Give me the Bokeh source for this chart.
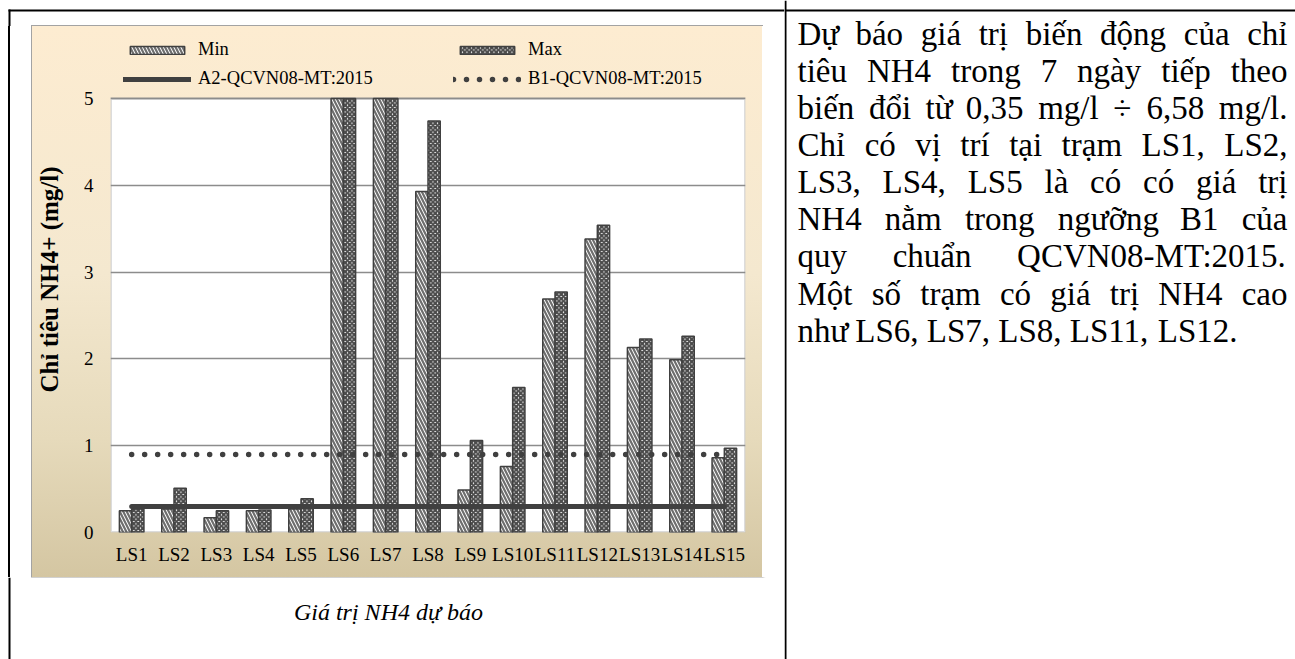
import unicodedata
import numpy as np
from bokeh.plotting import figure
from bokeh.models import (FactorRange, Range1d, ColumnDataSource, Legend, LegendItem,
                          BoxAnnotation, SingleIntervalTicker, Spacer)
from bokeh.layouts import row, column
from bokeh.transform import dodge
from bokeh.core.properties import value
from bokeh.embed import file_html
from bokeh.resources import INLINE

# ---------------- data ----------------
stations = ["LS1", "LS2", "LS3", "LS4", "LS5", "LS6", "LS7", "LS8", "LS9", "LS10",
            "LS11", "LS12", "LS13", "LS14", "LS15"]
nh4_min = [0.25, 0.27, 0.17, 0.25, 0.27, 6.10, 5.80, 3.93, 0.49, 0.76, 2.69, 3.38, 2.13, 1.99, 0.86]
nh4_max = [0.27, 0.51, 0.25, 0.26, 0.39, 6.58, 6.20, 4.74, 1.06, 1.67, 2.77, 3.54, 2.23, 2.26, 0.97]
a2_limit = [0.3, 0.3, 0.3, 0.3, 0.3, 0.3, 0.3, 0.3, 0.3, 0.3, 0.3, 0.3, 0.3, 0.3, 0.3]
b1_limit = [0.9, 0.9, 0.9, 0.9, 0.9, 0.9, 0.9, 0.9, 0.9, 0.9, 0.9, 0.9, 0.9, 0.9, 0.9]
y_axis_max = 5
y_ticks_interval = 1
series_names = ["Min", "Max", "A2-QCVN08-MT:2015", "B1-QCVN08-MT:2015"]
y_title = "Chỉ tiêu NH4+ (mg/l)"
caption = "Giá trị NH4 dự báo"
paragraph_lines = [
    "Dự báo giá trị biến động của chỉ",
    "tiêu NH4 trong 7 ngày tiếp theo",
    "biến đổi từ 0,35 mg/l ÷ 6,58 mg/l.",
    "Chỉ có vị trí tại trạm LS1, LS2,",
    "LS3, LS4, LS5 là có có giá trị",
    "NH4 nằm trong ngưỡng B1 của",
    "quy chuẩn QCVN08-MT:2015.",
    "Một số trạm có giá trị NH4 cao",
    "như LS6, LS7, LS8, LS11, LS12.",
]

SERIF = "Liberation Serif"
DARK = "#404040"
GRID = "#8c8c8c"

# ---------------- chart ----------------
PANEL_W, PANEL_H = 730, 551
MB_LEFT, MB_RIGHT, MB_BOTTOM = 72, 17, 45
PLOT_H = 434                       # pixel height of the 0..5 plot area
FRAME_H = PANEL_H - MB_BOTTOM      # frame reaches the panel top (legend lives inside)

# bars are cut at the axis maximum, as in the original chart
src = ColumnDataSource(dict(cat=stations,
                            mn=np.minimum(nh4_min, y_axis_max),
                            mx=np.minimum(nh4_max, y_axis_max),
                            a2=a2_limit, b1=b1_limit))

p = figure(x_range=FactorRange(*stations, range_padding=0),
           y_range=Range1d(0, y_axis_max * FRAME_H / PLOT_H),
           width=PANEL_W, height=PANEL_H, output_backend="svg", toolbar_location=None,
           min_border_left=MB_LEFT, min_border_right=MB_RIGHT, min_border_top=0,
           min_border_bottom=MB_BOTTOM,
           border_fill_color=None, background_fill_color=None, outline_line_color=None)
p.styles = {
    "background": "linear-gradient(to bottom, #fdecd1 0%, #f4e8cf 45%, #e6dabb 75%, #d4c6a2 100%)",
    "box-shadow": "0 0 0 1px #a3a3a3, 2px 2px 2px #9a9a9a",
}

# white plotting area with its grey border
p.add_layout(BoxAnnotation(bottom=0, top=y_axis_max, fill_color="white", fill_alpha=1,
                           line_color=GRID, line_width=3, level="image"))

r_min = p.vbar(x=dodge("cat", -0.145, range=p.x_range), top="mn", width=0.29, source=src,
               fill_color="white", line_color=DARK, line_width=1.5,
               hatch_pattern="left_diagonal_line", hatch_color="#6e6e6e",
               hatch_weight=2.2, hatch_scale=7)
r_max = p.vbar(x=dodge("cat", 0.145, range=p.x_range), top="mx", width=0.29, source=src,
               fill_color="white", line_color=DARK, line_width=1.5,
               hatch_pattern="diagonal_cross", hatch_color="#4a4a4a",
               hatch_weight=2.1, hatch_scale=4.5)
r_a2 = p.line(x="cat", y="a2", source=src, line_color=DARK, line_width=5, line_cap="round")
r_b1 = p.line(x="cat", y="b1", source=src, line_color=DARK, line_width=5.5, line_cap="round",
              line_dash="0 13")

p.xgrid.visible = False
p.ygrid.grid_line_color = GRID
p.ygrid.grid_line_width = 1.5
p.ygrid.bounds = (0, y_axis_max)

p.yaxis.ticker = SingleIntervalTicker(interval=y_ticks_interval)
p.yaxis.bounds = (0, y_axis_max)
for ax in (p.xaxis, p.yaxis):
    ax.axis_line_color = None
    ax.major_tick_line_color = None
    ax.minor_tick_line_color = None
    ax.major_label_text_font = SERIF
    ax.major_label_text_font_size = "19px"
    ax.major_label_text_color = "black"
p.xaxis.major_label_standoff = 5
p.yaxis.major_label_standoff = 11
p.yaxis.axis_label = y_title
p.yaxis.axis_label_text_font = SERIF
p.yaxis.axis_label_text_font_size = "25px"
p.yaxis.axis_label_text_font_style = "bold"
p.yaxis.axis_label_text_color = "black"
p.yaxis.axis_label_standoff = 18

legend = Legend(items=[LegendItem(label=series_names[0], renderers=[r_min]),
                       LegendItem(label=series_names[2], renderers=[r_a2]),
                       LegendItem(label=series_names[1], renderers=[r_max]),
                       LegendItem(label=series_names[3], renderers=[r_b1])],
                location=(13, 443), ncols=2, orientation="vertical",
                glyph_width=68, glyph_height=10, label_width=247, label_height=20,
                label_standoff=7, spacing=8, padding=0, margin=0,
                label_text_font=SERIF, label_text_font_size="18.5px",
                label_text_color="black",
                background_fill_alpha=0, border_line_alpha=0)
p.add_layout(legend)


# ---------------- helpers for the surrounding page ----------------
def blank(w, h):
    f = figure(width=w, height=h, x_range=Range1d(0, w), y_range=Range1d(h, 0),
               x_axis_type=None, y_axis_type=None,
               output_backend="svg", toolbar_location=None, min_border=0,
               border_fill_color="white", background_fill_color="white",
               outline_line_color=None)
    f.grid.visible = False
    return f


def rule(f, **kw):
    f.add_layout(BoxAnnotation(fill_color="black", fill_alpha=1, line_color=None, **kw))


TIMES = {" ": 250, "(": 333, ")": 333, "+": 564, ",": 250, "-": 333, ".": 250, "/": 278,
         ":": 278, "÷": 564,
         "A": 722, "B": 667, "C": 667, "D": 722, "E": 611, "F": 556, "G": 722, "H": 722,
         "I": 333, "J": 389, "K": 722, "L": 611, "M": 889, "N": 722, "O": 722, "P": 556,
         "Q": 722, "R": 667, "S": 556, "T": 611, "U": 722, "V": 722, "W": 944, "X": 722,
         "Y": 722, "Z": 611,
         "a": 444, "b": 500, "c": 444, "d": 500, "e": 444, "f": 333, "g": 500, "h": 500,
         "i": 278, "j": 278, "k": 500, "l": 278, "m": 778, "n": 500, "o": 500, "p": 500,
         "q": 500, "r": 333, "s": 389, "t": 278, "u": 500, "v": 500, "w": 722, "x": 500,
         "y": 500, "z": 444}


def text_width(s, size):
    w = 0
    for ch in s:
        if ch.isdigit():
            w += 500
            continue
        base = {"đ": "d", "Đ": "D"}.get(ch, unicodedata.normalize("NFD", ch)[0])
        w += TIMES.get(base, 500)
    return w * size / 1000.0


W_TOTAL, H_TOTAL = 1295, 659
LEFT_W = 784
RIGHT_W = W_TOTAL - LEFT_W
TOP_H = 26
BOT_H = H_TOTAL - TOP_H - PANEL_H
PANEL_X = 32

# top strip of left cell
top_tile = blank(LEFT_W, TOP_H)
rule(top_tile, left=8, right=10, top=9, bottom=TOP_H)
rule(top_tile, left=8, right=LEFT_W, top=9, bottom=11)

# left strip beside the chart: white with the table's left rule
left_strip = Spacer(width=PANEL_X, height=PANEL_H, styles={
    "background": "linear-gradient(to right, white 8px, black 8px, black 10px, white 10px)"})
right_strip = Spacer(width=LEFT_W - PANEL_X - PANEL_W, height=PANEL_H,
                     styles={"background": "white"})
mid = row(left_strip, p, right_strip)

# caption tile
cap_tile = blank(LEFT_W, BOT_H)
rule(cap_tile, left=8, right=10)
cap_tile.text(x=[388], y=[34], text=[caption], text_font=value(SERIF),
              text_font_size="24px", text_font_style="italic", text_align="center",
              text_baseline="middle", text_color="black")

left_cell = column(top_tile, mid, cap_tile)

# right cell with justified paragraph
right = blank(RIGHT_W, H_TOTAL)
rule(right, left=0, right=2)
rule(right, top=9, bottom=11)

FS = 33
x_left, x_right = 13, 503
xs, ys, words = [], [], []
for i, line in enumerate(paragraph_lines):
    ws = line.split()
    yy = 33 + 37.15 * i
    widths = [text_width(w, FS) for w in ws]
    if i < len(paragraph_lines) - 1 and len(ws) > 1:
        gap = (x_right - x_left - sum(widths)) / (len(ws) - 1)
    else:
        gap = text_width(" ", FS)
    xx = x_left
    for w, wd in zip(ws, widths):
        xs.append(xx)
        ys.append(yy)
        words.append(w)
        xx += wd + gap
right.text(x=xs, y=ys, text=words, text_font=value(SERIF), text_font_size=f"{FS}px",
           text_align="left", text_baseline="middle", text_color="black")

page = row(left_cell, right)

open("out.html", "w").write(file_html(page, INLINE))
